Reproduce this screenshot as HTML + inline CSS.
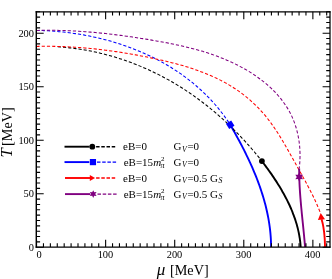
<!DOCTYPE html>
<html><head><meta charset="utf-8"><title>Phase diagram</title>
<style>html,body{margin:0;padding:0;background:#fff;}body{width:332px;height:279px;overflow:hidden;font-family:"Liberation Serif",serif;}svg{display:block;will-change:transform;}</style></head>
<body>
<svg width="332" height="279" viewBox="0 0 332 279">
<rect width="332" height="279" fill="#fff"/>
<defs><clipPath id="c"><rect x="36.30" y="11.80" width="293.70" height="235.30"/></clipPath></defs>
<g fill="none" clip-path="url(#c)">
<path d="M36.50 30.45 C37.00 30.46 38.48 30.48 39.48 30.50 C40.47 30.53 41.47 30.56 42.46 30.59 C43.46 30.62 44.45 30.66 45.45 30.71 C46.45 30.75 47.45 30.80 48.44 30.85 C49.44 30.91 50.44 30.97 51.44 31.03 C52.44 31.10 53.44 31.17 54.44 31.24 C55.44 31.32 56.44 31.40 57.45 31.49 C58.45 31.57 59.45 31.66 60.45 31.76 C61.45 31.86 62.45 31.96 63.46 32.07 C64.46 32.17 65.46 32.29 66.46 32.40 C67.47 32.52 68.47 32.64 69.47 32.77 C70.47 32.90 71.47 33.04 72.48 33.18 C73.48 33.31 74.48 33.46 75.48 33.61 C76.48 33.76 77.48 33.92 78.48 34.08 C79.48 34.24 80.48 34.40 81.48 34.57 C82.48 34.75 83.48 34.92 84.48 35.11 C85.48 35.29 86.48 35.48 87.47 35.67 C88.47 35.86 89.47 36.06 90.46 36.27 C91.46 36.47 92.45 36.68 93.44 36.90 C94.44 37.11 95.43 37.33 96.42 37.56 C97.41 37.78 98.40 38.02 99.39 38.25 C100.38 38.49 101.37 38.73 102.36 38.98 C103.34 39.23 104.33 39.48 105.31 39.74 C106.29 40.00 107.28 40.27 108.26 40.54 C109.24 40.81 110.22 41.08 111.19 41.36 C112.17 41.65 113.15 41.93 114.12 42.23 C115.10 42.52 116.07 42.82 117.04 43.12 C118.01 43.42 118.98 43.73 119.95 44.05 C120.91 44.36 121.88 44.68 122.84 45.01 C123.80 45.34 124.76 45.67 125.72 46.01 C126.68 46.34 127.64 46.69 128.59 47.04 C129.54 47.38 130.49 47.74 131.44 48.10 C132.39 48.46 133.34 48.83 134.28 49.20 C135.23 49.57 136.17 49.95 137.11 50.33 C138.05 50.71 138.98 51.10 139.92 51.50 C140.85 51.89 141.78 52.29 142.71 52.70 C143.64 53.10 144.56 53.51 145.49 53.93 C146.41 54.35 147.33 54.77 148.24 55.20 C149.16 55.63 150.07 56.06 150.98 56.50 C151.89 56.94 152.80 57.39 153.70 57.84 C154.61 58.30 155.51 58.75 156.41 59.22 C157.30 59.68 158.20 60.15 159.09 60.63 C159.98 61.10 160.86 61.58 161.75 62.07 C162.63 62.56 163.51 63.05 164.38 63.55 C165.26 64.05 166.13 64.55 167.00 65.06 C167.87 65.57 168.73 66.09 169.59 66.61 C170.45 67.13 171.31 67.66 172.16 68.20 C173.01 68.73 173.86 69.27 174.71 69.82 C175.55 70.36 176.39 70.91 177.23 71.47 C178.06 72.03 178.89 72.59 179.72 73.16 C180.55 73.73 181.37 74.31 182.19 74.89 C183.01 75.47 183.82 76.06 184.63 76.65 C185.44 77.25 186.24 77.85 187.04 78.45 C187.84 79.06 188.64 79.67 189.43 80.29 C190.22 80.90 191.00 81.53 191.78 82.16 C192.56 82.79 193.34 83.42 194.11 84.06 C194.88 84.71 195.65 85.35 196.41 86.01 C197.17 86.66 197.92 87.32 198.67 87.99 C199.42 88.65 200.17 89.33 200.91 90.01 C201.65 90.68 202.38 91.37 203.11 92.06 C203.84 92.75 204.56 93.45 205.28 94.15 C206.00 94.85 206.71 95.56 207.42 96.28 C208.12 96.99 208.82 97.71 209.52 98.44 C210.21 99.17 210.90 99.90 211.58 100.64 C212.27 101.38 212.94 102.12 213.62 102.88 C214.29 103.63 214.95 104.39 215.61 105.15 C216.27 105.92 216.92 106.69 217.57 107.46 C218.22 108.24 218.86 109.02 219.49 109.81 C220.13 110.60 220.75 111.40 221.38 112.20 C222.00 113.00 222.61 113.81 223.22 114.62 C223.83 115.44 224.43 116.26 225.03 117.09 C225.62 117.91 226.21 118.75 226.79 119.59 C227.37 120.43 227.95 121.27 228.52 122.12 C229.08 122.98 229.92 124.27 230.20 124.70" stroke="#0000ff" stroke-width="1.05" stroke-dasharray="3.2 2.0"/>
<path d="M230.20 124.70 C230.45 125.13 231.20 126.43 231.70 127.31 C232.20 128.18 232.70 129.05 233.20 129.93 C233.69 130.80 234.19 131.68 234.68 132.56 C235.17 133.44 235.66 134.32 236.15 135.21 C236.64 136.09 237.13 136.98 237.61 137.87 C238.10 138.75 238.58 139.65 239.06 140.54 C239.54 141.43 240.01 142.33 240.49 143.23 C240.96 144.12 241.43 145.02 241.90 145.93 C242.37 146.83 242.83 147.73 243.30 148.64 C243.76 149.54 244.22 150.45 244.67 151.36 C245.13 152.27 245.58 153.19 246.03 154.10 C246.48 155.01 246.92 155.93 247.36 156.85 C247.80 157.77 248.24 158.69 248.67 159.61 C249.11 160.53 249.53 161.46 249.96 162.39 C250.38 163.31 250.80 164.24 251.22 165.17 C251.64 166.10 252.05 167.04 252.46 167.97 C252.86 168.90 253.27 169.84 253.66 170.78 C254.06 171.72 254.45 172.66 254.84 173.60 C255.23 174.54 255.61 175.49 255.99 176.43 C256.36 177.38 256.74 178.33 257.10 179.27 C257.47 180.22 257.83 181.18 258.19 182.13 C258.54 183.08 258.89 184.04 259.23 184.99 C259.58 185.95 259.91 186.91 260.25 187.87 C260.58 188.83 260.90 189.79 261.22 190.76 C261.54 191.72 261.85 192.69 262.16 193.65 C262.47 194.62 262.77 195.59 263.06 196.56 C263.35 197.53 263.64 198.50 263.92 199.48 C264.19 200.45 264.47 201.43 264.73 202.40 C265.00 203.38 265.25 204.36 265.51 205.34 C265.76 206.32 266.00 207.30 266.23 208.29 C266.47 209.27 266.70 210.26 266.92 211.24 C267.14 212.23 267.35 213.22 267.55 214.21 C267.76 215.20 267.95 216.19 268.14 217.18 C268.33 218.18 268.51 219.17 268.68 220.17 C268.85 221.16 269.01 222.16 269.17 223.16 C269.32 224.16 269.47 225.16 269.60 226.16 C269.74 227.16 269.87 228.16 269.99 229.17 C270.11 230.17 270.22 231.18 270.32 232.19 C270.42 233.19 270.51 234.20 270.59 235.21 C270.67 236.22 270.74 237.24 270.81 238.25 C270.87 239.26 270.92 240.28 270.96 241.29 C271.01 242.31 271.04 243.32 271.06 244.34 C271.08 245.36 271.09 246.89 271.10 247.40" stroke="#0000ff" stroke-width="1.9"/>
<path d="M57.79 46.81 C58.29 46.84 59.80 46.94 60.81 47.02 C61.81 47.09 62.82 47.17 63.83 47.26 C64.83 47.35 65.83 47.44 66.84 47.54 C67.84 47.64 68.84 47.75 69.84 47.86 C70.84 47.97 71.84 48.09 72.84 48.22 C73.84 48.34 74.84 48.47 75.84 48.61 C76.83 48.74 77.83 48.89 78.82 49.03 C79.82 49.18 80.81 49.34 81.80 49.50 C82.79 49.66 83.78 49.82 84.77 49.99 C85.76 50.16 86.75 50.34 87.74 50.53 C88.73 50.71 89.71 50.90 90.70 51.09 C91.68 51.29 92.66 51.49 93.64 51.70 C94.63 51.90 95.61 52.11 96.59 52.33 C97.56 52.55 98.54 52.77 99.52 53.00 C100.49 53.23 101.47 53.47 102.44 53.71 C103.41 53.95 104.38 54.20 105.35 54.45 C106.32 54.70 107.29 54.96 108.26 55.22 C109.23 55.48 110.19 55.75 111.15 56.03 C112.12 56.30 113.08 56.58 114.04 56.87 C115.00 57.15 115.96 57.44 116.91 57.74 C117.87 58.04 118.82 58.34 119.78 58.64 C120.73 58.95 121.68 59.26 122.63 59.58 C123.58 59.90 124.53 60.22 125.47 60.55 C126.42 60.88 127.36 61.22 128.31 61.56 C129.25 61.90 130.19 62.24 131.12 62.59 C132.06 62.94 133.00 63.30 133.93 63.66 C134.87 64.02 135.80 64.38 136.73 64.76 C137.66 65.13 138.59 65.50 139.51 65.88 C140.44 66.27 141.36 66.65 142.28 67.05 C143.20 67.44 144.12 67.83 145.04 68.24 C145.96 68.64 146.87 69.05 147.78 69.46 C148.70 69.87 149.61 70.29 150.52 70.71 C151.42 71.14 152.33 71.56 153.23 72.00 C154.14 72.43 155.04 72.87 155.94 73.31 C156.84 73.75 157.73 74.20 158.63 74.65 C159.52 75.10 160.41 75.56 161.30 76.02 C162.19 76.49 163.08 76.95 163.96 77.43 C164.84 77.90 165.73 78.38 166.60 78.86 C167.48 79.34 168.36 79.83 169.23 80.32 C170.11 80.81 170.98 81.31 171.85 81.81 C172.72 82.31 173.58 82.82 174.45 83.33 C175.31 83.84 176.17 84.35 177.03 84.87 C177.89 85.39 178.74 85.92 179.59 86.45 C180.44 86.98 181.29 87.51 182.14 88.05 C182.99 88.59 183.83 89.13 184.67 89.68 C185.51 90.23 186.35 90.78 187.19 91.34 C188.02 91.90 188.86 92.46 189.69 93.02 C190.52 93.59 191.34 94.16 192.17 94.73 C192.99 95.31 193.81 95.89 194.63 96.47 C195.45 97.05 196.26 97.64 197.08 98.23 C197.89 98.82 198.70 99.42 199.50 100.02 C200.31 100.62 201.12 101.22 201.92 101.83 C202.72 102.44 203.51 103.05 204.31 103.67 C205.10 104.29 205.90 104.91 206.69 105.53 C207.47 106.15 208.26 106.78 209.04 107.42 C209.83 108.05 210.61 108.68 211.38 109.32 C212.16 109.96 212.93 110.61 213.71 111.25 C214.48 111.90 215.24 112.55 216.01 113.21 C216.77 113.86 217.54 114.52 218.30 115.18 C219.05 115.85 219.81 116.51 220.56 117.18 C221.32 117.85 222.06 118.52 222.81 119.20 C223.56 119.88 224.30 120.56 225.04 121.24 C225.78 121.92 226.52 122.61 227.25 123.30 C227.99 123.99 228.72 124.68 229.45 125.38 C230.17 126.08 230.90 126.78 231.62 127.48 C232.34 128.18 233.06 128.89 233.78 129.60 C234.49 130.31 235.20 131.02 235.91 131.74 C236.62 132.46 237.33 133.18 238.03 133.90 C238.73 134.62 239.43 135.34 240.13 136.07 C240.82 136.80 241.51 137.53 242.20 138.27 C242.89 139.00 243.58 139.74 244.26 140.48 C244.95 141.22 245.63 141.96 246.30 142.71 C246.98 143.45 247.65 144.20 248.32 144.95 C248.99 145.70 249.66 146.46 250.32 147.21 C250.99 147.97 251.65 148.73 252.30 149.49 C252.96 150.25 253.61 151.02 254.26 151.78 C254.91 152.55 255.56 153.32 256.20 154.09 C256.84 154.86 257.48 155.64 258.12 156.41 C258.76 157.19 259.39 157.97 260.02 158.75 C260.65 159.53 261.59 160.71 261.90 161.10" stroke="#000000" stroke-width="1.05" stroke-dasharray="3.2 2.0"/>
<path d="M261.90 161.10 C262.20 161.49 263.09 162.67 263.69 163.46 C264.28 164.25 264.88 165.04 265.47 165.84 C266.06 166.64 266.65 167.44 267.23 168.25 C267.82 169.05 268.40 169.86 268.98 170.68 C269.56 171.49 270.14 172.31 270.71 173.13 C271.29 173.95 271.86 174.77 272.42 175.60 C272.99 176.43 273.55 177.26 274.11 178.10 C274.67 178.93 275.22 179.77 275.77 180.62 C276.32 181.46 276.86 182.31 277.40 183.16 C277.94 184.01 278.47 184.86 279.00 185.72 C279.52 186.58 280.05 187.44 280.56 188.30 C281.08 189.17 281.59 190.04 282.09 190.91 C282.59 191.78 283.09 192.66 283.57 193.54 C284.06 194.42 284.54 195.30 285.02 196.19 C285.49 197.07 285.96 197.96 286.42 198.86 C286.87 199.75 287.33 200.65 287.77 201.55 C288.21 202.45 288.64 203.36 289.07 204.26 C289.49 205.17 289.91 206.08 290.31 207.00 C290.72 207.91 291.12 208.83 291.51 209.75 C291.89 210.67 292.27 211.60 292.64 212.53 C293.01 213.46 293.36 214.39 293.71 215.32 C294.06 216.26 294.39 217.20 294.72 218.14 C295.04 219.08 295.36 220.03 295.66 220.98 C295.96 221.93 296.25 222.88 296.53 223.84 C296.81 224.79 297.08 225.75 297.33 226.71 C297.59 227.67 297.83 228.64 298.06 229.61 C298.29 230.58 298.50 231.55 298.71 232.53 C298.91 233.50 299.10 234.48 299.28 235.46 C299.45 236.44 299.61 237.43 299.76 238.42 C299.91 239.41 300.04 240.40 300.16 241.39 C300.28 242.39 300.39 243.39 300.48 244.39 C300.57 245.39 300.66 246.90 300.70 247.40" stroke="#000000" stroke-width="1.9"/>
<path d="M36.50 46.40 C37.01 46.39 38.54 46.36 39.56 46.34 C40.58 46.33 41.60 46.32 42.62 46.31 C43.64 46.30 44.65 46.29 45.67 46.29 C46.68 46.29 47.70 46.29 48.71 46.30 C49.72 46.30 50.74 46.31 51.75 46.33 C52.76 46.34 53.77 46.36 54.78 46.38 C55.79 46.40 56.80 46.42 57.80 46.44 C58.81 46.47 59.82 46.50 60.82 46.53 C61.83 46.57 62.83 46.60 63.84 46.64 C64.84 46.68 65.84 46.73 66.84 46.77 C67.85 46.82 68.85 46.87 69.85 46.92 C70.85 46.98 71.85 47.03 72.85 47.09 C73.85 47.15 74.84 47.22 75.84 47.28 C76.84 47.35 77.84 47.42 78.83 47.49 C79.83 47.56 80.82 47.64 81.82 47.72 C82.81 47.80 83.81 47.88 84.80 47.96 C85.80 48.05 86.79 48.14 87.78 48.23 C88.78 48.32 89.77 48.41 90.76 48.51 C91.75 48.61 92.74 48.71 93.74 48.81 C94.73 48.91 95.72 49.02 96.71 49.13 C97.70 49.24 98.69 49.35 99.68 49.47 C100.67 49.58 101.66 49.70 102.64 49.82 C103.63 49.94 104.62 50.06 105.61 50.19 C106.60 50.32 107.59 50.45 108.57 50.58 C109.56 50.71 110.55 50.85 111.54 50.99 C112.53 51.12 113.51 51.26 114.50 51.41 C115.49 51.55 116.47 51.70 117.46 51.85 C118.45 52.00 119.44 52.15 120.42 52.30 C121.41 52.46 122.40 52.61 123.38 52.77 C124.37 52.93 125.36 53.09 126.34 53.26 C127.33 53.42 128.32 53.59 129.31 53.76 C130.29 53.93 131.28 54.11 132.27 54.28 C133.26 54.46 134.24 54.63 135.23 54.81 C136.22 54.99 137.21 55.18 138.19 55.36 C139.18 55.55 140.17 55.74 141.16 55.93 C142.15 56.12 143.14 56.31 144.13 56.50 C145.12 56.70 146.10 56.90 147.09 57.10 C148.08 57.30 149.07 57.50 150.07 57.70 C151.06 57.91 152.05 58.12 153.04 58.33 C154.03 58.54 155.02 58.75 156.01 58.96 C157.00 59.18 157.99 59.40 158.99 59.62 C159.98 59.84 160.97 60.06 161.96 60.29 C162.95 60.52 163.94 60.75 164.93 60.98 C165.92 61.21 166.90 61.45 167.89 61.69 C168.88 61.93 169.87 62.18 170.85 62.43 C171.84 62.67 172.82 62.93 173.81 63.18 C174.79 63.44 175.77 63.70 176.75 63.97 C177.74 64.23 178.72 64.50 179.69 64.78 C180.67 65.05 181.65 65.33 182.62 65.61 C183.60 65.90 184.57 66.18 185.54 66.48 C186.51 66.77 187.48 67.07 188.45 67.37 C189.41 67.68 190.38 67.98 191.34 68.30 C192.30 68.61 193.26 68.93 194.21 69.26 C195.17 69.58 196.12 69.92 197.08 70.25 C198.03 70.59 198.97 70.93 199.92 71.28 C200.86 71.63 201.81 71.99 202.75 72.35 C203.68 72.71 204.62 73.08 205.55 73.45 C206.48 73.83 207.41 74.21 208.34 74.60 C209.26 74.98 210.18 75.38 211.10 75.78 C212.02 76.18 212.93 76.59 213.84 77.01 C214.75 77.42 215.66 77.85 216.56 78.28 C217.46 78.71 218.36 79.15 219.25 79.59 C220.14 80.04 221.03 80.49 221.91 80.95 C222.80 81.41 223.68 81.88 224.55 82.36 C225.42 82.84 226.29 83.32 227.16 83.82 C228.02 84.31 228.88 84.82 229.73 85.33 C230.59 85.84 231.44 86.36 232.28 86.88 C233.12 87.41 233.96 87.95 234.79 88.50 C235.62 89.04 236.45 89.60 237.27 90.16 C238.09 90.73 238.90 91.30 239.71 91.88 C240.52 92.46 241.32 93.06 242.12 93.66 C242.91 94.26 243.70 94.86 244.49 95.48 C245.27 96.10 246.05 96.73 246.82 97.36 C247.59 97.99 248.35 98.64 249.11 99.29 C249.87 99.94 250.62 100.60 251.36 101.27 C252.10 101.93 252.84 102.61 253.57 103.29 C254.29 103.98 255.01 104.67 255.73 105.37 C256.44 106.07 257.15 106.77 257.85 107.49 C258.55 108.20 259.24 108.93 259.92 109.66 C260.60 110.39 261.28 111.13 261.95 111.87 C262.61 112.62 263.27 113.37 263.93 114.13 C264.58 114.89 265.22 115.65 265.85 116.43 C266.49 117.20 267.11 117.98 267.73 118.77 C268.35 119.56 268.96 120.35 269.57 121.15 C270.17 121.95 270.76 122.76 271.35 123.57 C271.94 124.38 272.52 125.20 273.10 126.02 C273.67 126.85 274.24 127.67 274.81 128.51 C275.37 129.34 275.93 130.18 276.48 131.02 C277.03 131.86 277.58 132.71 278.12 133.56 C278.66 134.41 279.20 135.26 279.73 136.12 C280.26 136.98 280.79 137.84 281.31 138.70 C281.84 139.56 282.35 140.43 282.87 141.30 C283.39 142.17 283.90 143.04 284.41 143.92 C284.92 144.79 285.43 145.67 285.93 146.54 C286.43 147.42 286.94 148.30 287.44 149.18 C287.94 150.06 288.43 150.94 288.93 151.83 C289.43 152.71 289.92 153.59 290.41 154.47 C290.91 155.36 291.40 156.24 291.89 157.12 C292.38 158.01 292.87 158.89 293.37 159.77 C293.86 160.66 294.35 161.54 294.84 162.42 C295.33 163.30 295.82 164.18 296.32 165.06 C296.81 165.94 297.30 166.81 297.79 167.69 C298.29 168.57 298.78 169.45 299.27 170.32 C299.76 171.20 300.25 172.07 300.74 172.95 C301.23 173.83 301.72 174.70 302.20 175.58 C302.69 176.46 303.18 177.33 303.66 178.21 C304.14 179.09 304.62 179.97 305.10 180.84 C305.58 181.72 306.06 182.60 306.53 183.48 C307.01 184.37 307.48 185.25 307.95 186.13 C308.41 187.02 308.88 187.90 309.34 188.79 C309.80 189.68 310.26 190.56 310.71 191.46 C311.16 192.35 311.61 193.24 312.06 194.14 C312.50 195.03 312.94 195.93 313.38 196.83 C313.81 197.73 314.24 198.63 314.67 199.54 C315.09 200.45 315.51 201.36 315.93 202.27 C316.34 203.18 316.75 204.10 317.15 205.02 C317.56 205.94 317.95 206.86 318.34 207.79 C318.73 208.71 319.12 209.65 319.49 210.58 C319.87 211.52 320.42 212.93 320.60 213.40" stroke="#ff0000" stroke-width="1.05" stroke-dasharray="3.2 2.0"/>
<path d="M321.60 219.30 C321.73 219.81 322.15 221.33 322.40 222.35 C322.64 223.38 322.86 224.40 323.06 225.43 C323.27 226.47 323.45 227.50 323.61 228.54 C323.78 229.58 323.92 230.62 324.05 231.66 C324.18 232.71 324.29 233.75 324.39 234.80 C324.49 235.85 324.58 236.90 324.65 237.95 C324.72 239.00 324.78 240.05 324.83 241.10 C324.88 242.15 324.91 243.20 324.94 244.25 C324.97 245.30 324.99 246.88 325.00 247.40" stroke="#ff0000" stroke-width="1.9"/>
<path d="M36.50 30.45 C37.01 30.44 38.54 30.40 39.56 30.38 C40.58 30.36 41.59 30.34 42.61 30.33 C43.63 30.32 44.64 30.31 45.66 30.30 C46.67 30.29 47.69 30.29 48.70 30.29 C49.71 30.29 50.73 30.29 51.74 30.30 C52.75 30.31 53.76 30.32 54.77 30.33 C55.78 30.35 56.79 30.36 57.79 30.38 C58.80 30.40 59.81 30.43 60.82 30.45 C61.82 30.48 62.83 30.51 63.83 30.54 C64.84 30.57 65.84 30.61 66.85 30.65 C67.85 30.69 68.85 30.73 69.85 30.77 C70.86 30.82 71.86 30.87 72.86 30.92 C73.86 30.97 74.86 31.02 75.86 31.08 C76.86 31.13 77.86 31.19 78.86 31.26 C79.86 31.32 80.86 31.38 81.85 31.45 C82.85 31.52 83.85 31.59 84.85 31.66 C85.84 31.74 86.84 31.81 87.83 31.89 C88.83 31.97 89.83 32.05 90.82 32.13 C91.82 32.22 92.81 32.31 93.81 32.39 C94.80 32.48 95.80 32.58 96.79 32.67 C97.78 32.76 98.78 32.86 99.77 32.96 C100.76 33.06 101.76 33.16 102.75 33.26 C103.74 33.37 104.73 33.48 105.73 33.58 C106.72 33.69 107.71 33.80 108.70 33.92 C109.70 34.03 110.69 34.15 111.68 34.26 C112.67 34.38 113.66 34.50 114.65 34.63 C115.65 34.75 116.64 34.87 117.63 35.00 C118.62 35.13 119.61 35.25 120.60 35.39 C121.59 35.52 122.59 35.65 123.58 35.79 C124.57 35.92 125.56 36.06 126.55 36.20 C127.54 36.34 128.54 36.48 129.53 36.62 C130.52 36.76 131.51 36.91 132.50 37.05 C133.49 37.20 134.49 37.35 135.48 37.50 C136.47 37.65 137.46 37.80 138.46 37.96 C139.45 38.11 140.44 38.27 141.43 38.43 C142.43 38.58 143.42 38.74 144.42 38.90 C145.41 39.06 146.40 39.23 147.40 39.39 C148.39 39.55 149.39 39.72 150.38 39.89 C151.38 40.06 152.37 40.22 153.37 40.40 C154.36 40.57 155.36 40.74 156.35 40.91 C157.35 41.09 158.34 41.26 159.34 41.44 C160.34 41.62 161.33 41.80 162.33 41.99 C163.32 42.17 164.32 42.36 165.31 42.55 C166.31 42.74 167.30 42.93 168.30 43.12 C169.29 43.31 170.28 43.51 171.28 43.71 C172.27 43.91 173.26 44.12 174.25 44.32 C175.25 44.53 176.24 44.74 177.23 44.95 C178.22 45.17 179.21 45.38 180.20 45.60 C181.18 45.82 182.17 46.05 183.16 46.28 C184.14 46.50 185.13 46.74 186.11 46.97 C187.10 47.21 188.08 47.45 189.06 47.69 C190.04 47.94 191.02 48.19 192.00 48.44 C192.98 48.70 193.96 48.95 194.93 49.22 C195.91 49.48 196.88 49.75 197.85 50.02 C198.82 50.29 199.79 50.57 200.76 50.85 C201.73 51.14 202.70 51.42 203.66 51.72 C204.62 52.01 205.59 52.31 206.55 52.61 C207.51 52.92 208.46 53.23 209.42 53.54 C210.38 53.86 211.33 54.18 212.28 54.51 C213.23 54.84 214.18 55.17 215.13 55.51 C216.07 55.85 217.01 56.20 217.95 56.55 C218.90 56.90 219.83 57.26 220.77 57.63 C221.70 57.99 222.64 58.36 223.57 58.74 C224.49 59.12 225.42 59.51 226.34 59.90 C227.27 60.29 228.19 60.69 229.10 61.10 C230.02 61.51 230.94 61.92 231.85 62.35 C232.76 62.77 233.66 63.20 234.57 63.64 C235.47 64.07 236.37 64.52 237.27 64.97 C238.16 65.42 239.06 65.88 239.95 66.35 C240.84 66.82 241.72 67.30 242.60 67.79 C243.48 68.27 244.36 68.77 245.24 69.27 C246.11 69.77 246.98 70.28 247.84 70.80 C248.71 71.32 249.57 71.85 250.43 72.39 C251.28 72.92 252.13 73.47 252.98 74.02 C253.82 74.58 254.66 75.14 255.50 75.71 C256.33 76.28 257.16 76.86 257.98 77.45 C258.80 78.04 259.61 78.64 260.42 79.24 C261.23 79.85 262.03 80.47 262.82 81.09 C263.61 81.71 264.39 82.35 265.17 82.99 C265.95 83.63 266.71 84.28 267.47 84.94 C268.23 85.60 268.98 86.27 269.72 86.94 C270.46 87.62 271.19 88.31 271.91 89.00 C272.63 89.69 273.34 90.40 274.04 91.11 C274.74 91.82 275.43 92.54 276.10 93.27 C276.78 94.00 277.45 94.74 278.10 95.49 C278.76 96.24 279.40 96.99 280.03 97.76 C280.66 98.53 281.28 99.30 281.88 100.08 C282.49 100.87 283.08 101.66 283.66 102.46 C284.24 103.26 284.80 104.07 285.35 104.89 C285.91 105.71 286.44 106.54 286.97 107.38 C287.49 108.22 288.00 109.06 288.49 109.92 C288.98 110.78 289.46 111.64 289.92 112.51 C290.38 113.39 290.83 114.27 291.26 115.16 C291.69 116.06 292.10 116.96 292.50 117.87 C292.90 118.78 293.28 119.69 293.65 120.62 C294.01 121.54 294.36 122.48 294.70 123.42 C295.03 124.36 295.35 125.31 295.65 126.26 C295.95 127.21 296.24 128.17 296.51 129.14 C296.78 130.11 297.03 131.08 297.27 132.06 C297.51 133.03 297.74 134.02 297.94 135.01 C298.15 135.99 298.34 136.99 298.52 137.98 C298.70 138.98 298.86 139.98 299.00 140.98 C299.15 141.99 299.28 142.99 299.39 144.00 C299.50 145.02 299.60 146.03 299.69 147.04 C299.77 148.06 299.84 149.08 299.89 150.10 C299.94 151.12 299.98 152.14 300.00 153.16 C300.03 154.18 300.03 155.21 300.02 156.23 C300.02 157.25 299.99 158.28 299.95 159.30 C299.91 160.33 299.86 161.35 299.79 162.37 C299.72 163.40 299.64 164.42 299.54 165.44 C299.44 166.46 299.26 167.99 299.20 168.50" stroke="#800080" stroke-width="1.05" stroke-dasharray="3.2 2.0"/>
<path d="M299.20 168.50 C299.20 169.01 299.19 170.53 299.20 171.55 C299.20 172.56 299.21 173.58 299.23 174.59 C299.24 175.61 299.27 176.62 299.29 177.63 C299.32 178.65 299.35 179.66 299.39 180.68 C299.43 181.69 299.47 182.70 299.51 183.72 C299.56 184.73 299.61 185.74 299.66 186.76 C299.72 187.77 299.78 188.78 299.84 189.79 C299.90 190.81 299.97 191.82 300.04 192.83 C300.11 193.84 300.18 194.85 300.26 195.87 C300.33 196.88 300.41 197.89 300.50 198.90 C300.58 199.91 300.66 200.92 300.75 201.93 C300.84 202.95 300.93 203.96 301.02 204.97 C301.11 205.98 301.20 206.99 301.30 208.00 C301.39 209.01 301.49 210.02 301.59 211.03 C301.69 212.04 301.79 213.05 301.89 214.06 C301.99 215.07 302.09 216.08 302.19 217.09 C302.29 218.10 302.39 219.11 302.50 220.12 C302.60 221.13 302.70 222.14 302.81 223.15 C302.91 224.16 303.01 225.17 303.12 226.18 C303.22 227.19 303.32 228.20 303.42 229.21 C303.53 230.22 303.63 231.23 303.73 232.24 C303.83 233.25 303.93 234.26 304.02 235.27 C304.12 236.28 304.22 237.29 304.31 238.31 C304.40 239.32 304.50 240.33 304.59 241.34 C304.68 242.35 304.77 243.36 304.85 244.37 C304.94 245.38 305.06 246.89 305.10 247.40" stroke="#800080" stroke-width="1.9"/>
</g>
<circle cx="261.90" cy="161.10" r="2.9" fill="#000"/>
<rect x="227.10" y="121.60" width="6.2" height="6.2" fill="#0000ff" transform="rotate(58 230.20 124.70)"/>
<polygon points="299.20,172.40 300.40,174.82 303.10,174.65 301.60,176.90 303.10,179.15 300.40,178.98 299.20,181.40 298.00,178.98 295.30,179.15 296.80,176.90 295.30,174.65 298.00,174.82" fill="#800080"/>
<polygon points="320.7,213.1 317.9,220.0 325.0,219.3" fill="#ff0000"/>
<path d="M64.50 146.70H92.30" stroke="#000000" stroke-width="1.9" fill="none"/>
<path d="M96.10 146.70H116.00" stroke="#000000" stroke-width="1.4" stroke-dasharray="3.5 1.7" fill="none"/>
<circle cx="92.30" cy="146.70" r="2.9" fill="#000" stroke="#fff" stroke-width="0.6" paint-order="stroke"/>
<path d="M64.50 162.10H92.95" stroke="#0000ff" stroke-width="1.9" fill="none"/>
<path d="M97.00 162.10H116.40" stroke="#0000ff" stroke-width="1.4" stroke-dasharray="3.5 1.7" fill="none"/>
<rect x="89.85" y="159.00" width="6.2" height="6.2" fill="#0000ff" stroke="#fff" stroke-width="1" paint-order="stroke"/>
<path d="M65.00 178.00H92.00" stroke="#ff0000" stroke-width="1.9" fill="none"/>
<path d="M96.10 178.00H115.80" stroke="#ff0000" stroke-width="1.4" stroke-dasharray="3.5 1.7" fill="none"/>
<polygon points="95.10,178.00 89.80,175.00 89.80,181.00" fill="#ff0000"/>
<path d="M65.00 194.10H93.20" stroke="#800080" stroke-width="1.9" fill="none"/>
<path d="M97.50 194.10H117.50" stroke="#800080" stroke-width="1.4" stroke-dasharray="3.5 1.7" fill="none"/>
<polygon points="93.20,190.15 94.20,192.37 96.62,192.12 95.20,194.10 96.62,196.07 94.20,195.83 93.20,198.05 92.20,195.83 89.78,196.07 91.20,194.10 89.78,192.12 92.20,192.37" fill="#800080" stroke="#fff" stroke-width="1" paint-order="stroke"/>
<path d="M36.55 247.10v-7.40M36.55 11.80v7.40M43.46 247.10v-3.80M43.46 11.80v3.80M50.37 247.10v-3.80M50.37 11.80v3.80M57.27 247.10v-3.80M57.27 11.80v3.80M64.18 247.10v-3.80M64.18 11.80v3.80M71.09 247.10v-3.80M71.09 11.80v3.80M78.00 247.10v-3.80M78.00 11.80v3.80M84.91 247.10v-3.80M84.91 11.80v3.80M91.81 247.10v-3.80M91.81 11.80v3.80M98.72 247.10v-3.80M98.72 11.80v3.80M105.63 247.10v-7.40M105.63 11.80v7.40M112.54 247.10v-3.80M112.54 11.80v3.80M119.45 247.10v-3.80M119.45 11.80v3.80M126.35 247.10v-3.80M126.35 11.80v3.80M133.26 247.10v-3.80M133.26 11.80v3.80M140.17 247.10v-3.80M140.17 11.80v3.80M147.08 247.10v-3.80M147.08 11.80v3.80M153.99 247.10v-3.80M153.99 11.80v3.80M160.89 247.10v-3.80M160.89 11.80v3.80M167.80 247.10v-3.80M167.80 11.80v3.80M174.71 247.10v-7.40M174.71 11.80v7.40M181.62 247.10v-3.80M181.62 11.80v3.80M188.53 247.10v-3.80M188.53 11.80v3.80M195.43 247.10v-3.80M195.43 11.80v3.80M202.34 247.10v-3.80M202.34 11.80v3.80M209.25 247.10v-3.80M209.25 11.80v3.80M216.16 247.10v-3.80M216.16 11.80v3.80M223.07 247.10v-3.80M223.07 11.80v3.80M229.97 247.10v-3.80M229.97 11.80v3.80M236.88 247.10v-3.80M236.88 11.80v3.80M243.79 247.10v-7.40M243.79 11.80v7.40M250.70 247.10v-3.80M250.70 11.80v3.80M257.61 247.10v-3.80M257.61 11.80v3.80M264.51 247.10v-3.80M264.51 11.80v3.80M271.42 247.10v-3.80M271.42 11.80v3.80M278.33 247.10v-3.80M278.33 11.80v3.80M285.24 247.10v-3.80M285.24 11.80v3.80M292.15 247.10v-3.80M292.15 11.80v3.80M299.05 247.10v-3.80M299.05 11.80v3.80M305.96 247.10v-3.80M305.96 11.80v3.80M312.87 247.10v-7.40M312.87 11.80v7.40M319.78 247.10v-3.80M319.78 11.80v3.80M326.69 247.10v-3.80M326.69 11.80v3.80M36.30 247.25h7.40M330.00 247.25h-7.40M36.30 241.90h3.80M330.00 241.90h-3.80M36.30 236.55h3.80M330.00 236.55h-3.80M36.30 231.20h3.80M330.00 231.20h-3.80M36.30 225.84h3.80M330.00 225.84h-3.80M36.30 220.49h3.80M330.00 220.49h-3.80M36.30 215.14h3.80M330.00 215.14h-3.80M36.30 209.79h3.80M330.00 209.79h-3.80M36.30 204.44h3.80M330.00 204.44h-3.80M36.30 199.09h3.80M330.00 199.09h-3.80M36.30 193.74h7.40M330.00 193.74h-7.40M36.30 188.38h3.80M330.00 188.38h-3.80M36.30 183.03h3.80M330.00 183.03h-3.80M36.30 177.68h3.80M330.00 177.68h-3.80M36.30 172.33h3.80M330.00 172.33h-3.80M36.30 166.98h3.80M330.00 166.98h-3.80M36.30 161.63h3.80M330.00 161.63h-3.80M36.30 156.27h3.80M330.00 156.27h-3.80M36.30 150.92h3.80M330.00 150.92h-3.80M36.30 145.57h3.80M330.00 145.57h-3.80M36.30 140.22h7.40M330.00 140.22h-7.40M36.30 134.87h3.80M330.00 134.87h-3.80M36.30 129.52h3.80M330.00 129.52h-3.80M36.30 124.17h3.80M330.00 124.17h-3.80M36.30 118.81h3.80M330.00 118.81h-3.80M36.30 113.46h3.80M330.00 113.46h-3.80M36.30 108.11h3.80M330.00 108.11h-3.80M36.30 102.76h3.80M330.00 102.76h-3.80M36.30 97.41h3.80M330.00 97.41h-3.80M36.30 92.06h3.80M330.00 92.06h-3.80M36.30 86.70h7.40M330.00 86.70h-7.40M36.30 81.35h3.80M330.00 81.35h-3.80M36.30 76.00h3.80M330.00 76.00h-3.80M36.30 70.65h3.80M330.00 70.65h-3.80M36.30 65.30h3.80M330.00 65.30h-3.80M36.30 59.95h3.80M330.00 59.95h-3.80M36.30 54.60h3.80M330.00 54.60h-3.80M36.30 49.24h3.80M330.00 49.24h-3.80M36.30 43.89h3.80M330.00 43.89h-3.80M36.30 38.54h3.80M330.00 38.54h-3.80M36.30 33.19h7.40M330.00 33.19h-7.40M36.30 27.84h3.80M330.00 27.84h-3.80M36.30 22.49h3.80M330.00 22.49h-3.80M36.30 17.14h3.80M330.00 17.14h-3.80M36.30 11.78h3.80M330.00 11.78h-3.80" stroke="#000" stroke-width="1.1" fill="none"/>
<path d="M36.30 11.15V247.75" stroke="#000" stroke-width="1.45" fill="none"/>
<path d="M330.00 11.15V247.75" stroke="#000" stroke-width="1.25" fill="none"/>
<path d="M35.60 11.80H330.60" stroke="#000" stroke-width="1.35" fill="none"/>
<path d="M35.60 247.10H330.60" stroke="#000" stroke-width="1.3" fill="none"/>
<g font-family="Liberation Serif, serif" fill="#000">
<text x="39.05" y="257.60" font-size="10.4" text-anchor="middle">0</text>
<text x="105.43" y="257.60" font-size="10.4" text-anchor="middle">100</text>
<text x="174.51" y="257.60" font-size="10.4" text-anchor="middle">200</text>
<text x="243.59" y="257.60" font-size="10.4" text-anchor="middle">300</text>
<text x="312.67" y="257.60" font-size="10.4" text-anchor="middle">400</text>
<text x="34.00" y="250.70" font-size="10.4" text-anchor="end">0</text>
<text x="34.00" y="197.19" font-size="10.4" text-anchor="end">50</text>
<text x="34.00" y="143.67" font-size="10.4" text-anchor="end">100</text>
<text x="34.00" y="90.15" font-size="10.4" text-anchor="end">150</text>
<text x="34.00" y="36.64" font-size="10.4" text-anchor="end">200</text>
<text x="156.7" y="275.2" font-size="17" font-style="italic">μ</text>
<text x="170.0" y="275.2" font-size="14.2">[MeV]</text>
<text transform="translate(11.7 157.6) rotate(-90)" font-size="16.5" font-style="italic">T</text>
<text transform="translate(11.7 145.9) rotate(-90)" font-size="14.2">[MeV]</text>
<text x="123" y="150.20" font-size="11">eB=0</text>
<text x="173.50" y="150.20" font-size="11">G</text>
<text x="181.90" y="151.50" font-size="7.8" font-style="italic">V</text>
<text x="187.40" y="150.20" font-size="11">=0</text>
<text x="123.7" y="165.60" font-size="11">eB=15<tspan font-style="italic">m</tspan></text>
<text x="160.6" y="168.10" font-size="8" font-style="italic">π</text>
<text x="161.1" y="160.90" font-size="7">2</text>
<text x="173.50" y="165.60" font-size="11">G</text>
<text x="181.90" y="166.90" font-size="7.8" font-style="italic">V</text>
<text x="187.40" y="165.60" font-size="11">=0</text>
<text x="123" y="181.50" font-size="11">eB=0</text>
<text x="173.50" y="181.50" font-size="11">G</text>
<text x="181.90" y="182.80" font-size="7.8" font-style="italic">V</text>
<text x="187.40" y="181.50" font-size="11">=0.5 G</text>
<text x="218.40" y="182.90" font-size="7.8" font-style="italic">S</text>
<text x="123.7" y="197.60" font-size="11">eB=15<tspan font-style="italic">m</tspan></text>
<text x="160.6" y="200.10" font-size="8" font-style="italic">π</text>
<text x="161.1" y="192.90" font-size="7">2</text>
<text x="173.50" y="197.60" font-size="11">G</text>
<text x="181.90" y="198.90" font-size="7.8" font-style="italic">V</text>
<text x="187.40" y="197.60" font-size="11">=0.5 G</text>
<text x="218.40" y="199.00" font-size="7.8" font-style="italic">S</text>
</g>
</svg>
</body></html>
